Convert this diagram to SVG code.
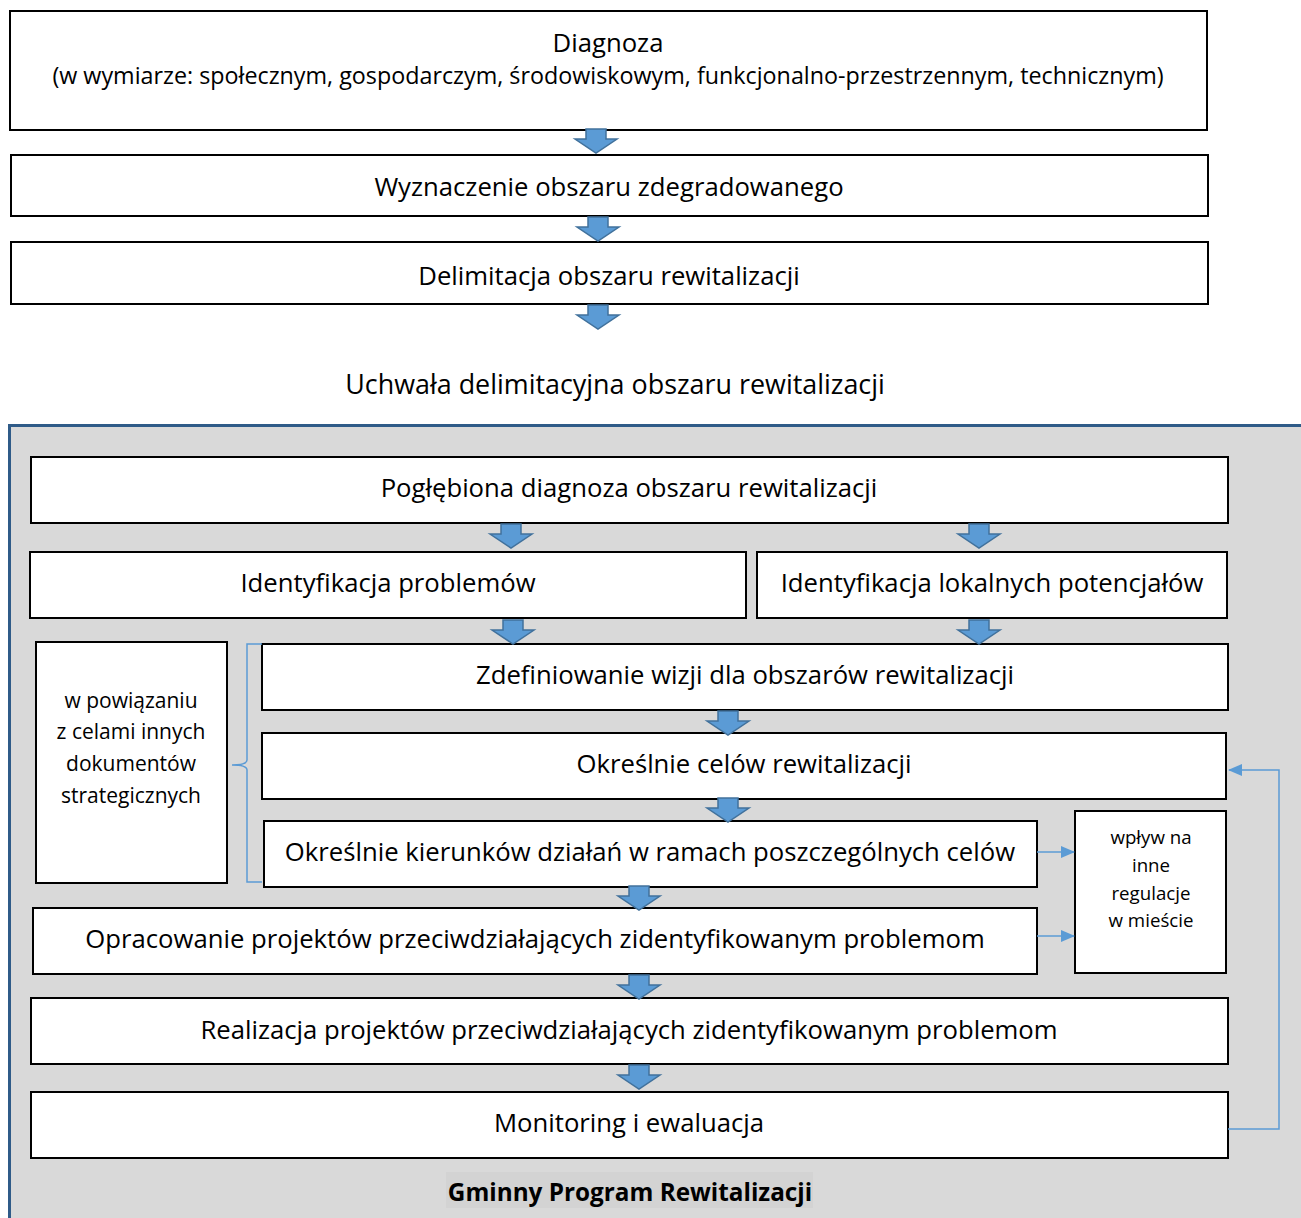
<svg xmlns="http://www.w3.org/2000/svg" width="1301" height="1218" viewBox="0 0 1301 1218">
<defs>
<style>
.box{fill:#fff;stroke:#000;stroke-width:2}
.t{font-family:"Open Sans","Liberation Sans",sans-serif;font-size:25.7px;fill:#000;text-anchor:middle;dominant-baseline:central}
.s{font-size:23.3px}
.u{font-size:26.9px}
.m{font-size:21px}
.w{font-size:18.7px}
.b{font-weight:bold;font-size:24.3px}
.conn{fill:none;stroke:#5b9bd5;stroke-width:1.5}
</style>
<path id="ba" d="M-10,0 H10 V10 H21 L0,24 L-21,10 H-10 Z" fill="#5b9bd5" stroke="#41719c" stroke-width="1.5"/>
<marker id="ah2" markerWidth="14" markerHeight="14" refX="13" refY="7" orient="auto" markerUnits="userSpaceOnUse" viewBox="0 0 14 14">
<path d="M0,1 L14,7 L0,13 Z" fill="#5b9bd5"/>
</marker>
</defs>
<rect width="1301" height="1218" fill="#fff"/>
<g id="n1"><rect class="box" x="10" y="11" width="1197" height="119"/><text class="t" x="608" y="42">Diagnoza</text><text class="t s" x="608" y="75">(w wymiarze: społecznym, gospodarczym, środowiskowym, funkcjonalno-przestrzennym, technicznym)</text></g>
<g id="n2"><rect class="box" x="11" y="155" width="1197" height="61"/><text class="t" x="609" y="186">Wyznaczenie obszaru zdegradowanego</text></g>
<g id="n3"><rect class="box" x="11" y="242" width="1197" height="62"/><text class="t" x="609" y="275">Delimitacja obszaru rewitalizacji</text></g>
<g id="n4"><text class="t u" x="615" y="383">Uchwała delimitacyjna obszaru rewitalizacji</text></g>
<g id="gpr"><rect x="9.5" y="425.5" width="1300" height="800" fill="#d9d9d9" stroke="#2f5b88" stroke-width="3"/>
<rect x="446" y="1172" width="367" height="36" fill="#d3d3d3"/><text class="t b" x="630" y="1191">Gminny Program Rewitalizacji</text></g>
<g id="n5"><rect class="box" x="31" y="457" width="1197" height="66"/><text class="t" x="629" y="487">Pogłębiona diagnoza obszaru rewitalizacji</text></g>
<g id="n6"><rect class="box" x="30" y="552" width="716" height="66"/><text class="t" x="388" y="582">Identyfikacja problemów</text></g>
<g id="n7"><rect class="box" x="757" y="552" width="470" height="66"/><text class="t" x="992" y="582">Identyfikacja lokalnych potencjałów</text></g>
<g id="n8"><rect class="box" x="36" y="642" width="191" height="241"/><text class="t m" x="131" y="700">w powiązaniu</text><text class="t m" x="131" y="731">z celami innych</text><text class="t m" x="131" y="763">dokumentów</text><text class="t m" x="131" y="795">strategicznych</text></g>
<g id="n9"><rect class="box" x="262" y="644" width="966" height="66"/><text class="t" x="745" y="674">Zdefiniowanie wizji dla obszarów rewitalizacji</text></g>
<g id="n10"><rect class="box" x="262" y="733" width="964" height="66"/><text class="t" x="744" y="763">Określnie celów rewitalizacji</text></g>
<g id="n11"><rect class="box" x="264" y="821" width="773" height="66"/><text class="t" x="650" y="851">Określnie kierunków działań w ramach poszczególnych celów</text></g>
<g id="n12"><rect class="box" x="1075" y="811" width="151" height="162"/><text class="t w" x="1151" y="836">wpływ na</text><text class="t w" x="1151" y="864">inne</text><text class="t w" x="1151" y="892">regulacje</text><text class="t w" x="1151" y="919">w mieście</text></g>
<g id="n13"><rect class="box" x="33" y="908" width="1004" height="66"/><text class="t" x="535" y="938">Opracowanie projektów przeciwdziałających zidentyfikowanym problemom</text></g>
<g id="n14"><rect class="box" x="31" y="998" width="1197" height="66"/><text class="t" x="629" y="1029">Realizacja projektów przeciwdziałających zidentyfikowanym problemom</text></g>
<g id="n15"><rect class="box" x="31" y="1092" width="1197" height="66"/><text class="t" x="629" y="1122">Monitoring i ewaluacja</text></g>
<g id="connectors">
<use href="#ba" x="596" y="129"/>
<use href="#ba" x="598" y="217"/>
<use href="#ba" x="598" y="305"/>
<use href="#ba" x="511" y="524"/>
<use href="#ba" x="979" y="524"/>
<use href="#ba" x="513" y="620"/>
<use href="#ba" x="979" y="620"/>
<use href="#ba" x="728" y="711"/>
<use href="#ba" x="728" y="798"/>
<use href="#ba" x="639" y="886"/>
<use href="#ba" x="639" y="975"/>
<use href="#ba" x="639" y="1065"/>
<path class="conn" d="M262,644 H247 V760 Q247,765 232,765 Q247,765 247,770 V882 H262"/>
<path class="conn" d="M1037,852 H1074" marker-end="url(#ah2)"/>
<path class="conn" d="M1037,936 H1074" marker-end="url(#ah2)"/>
<path class="conn" d="M1228,1129 H1279 V770 H1229" marker-end="url(#ah2)"/>
</g>
</svg>
